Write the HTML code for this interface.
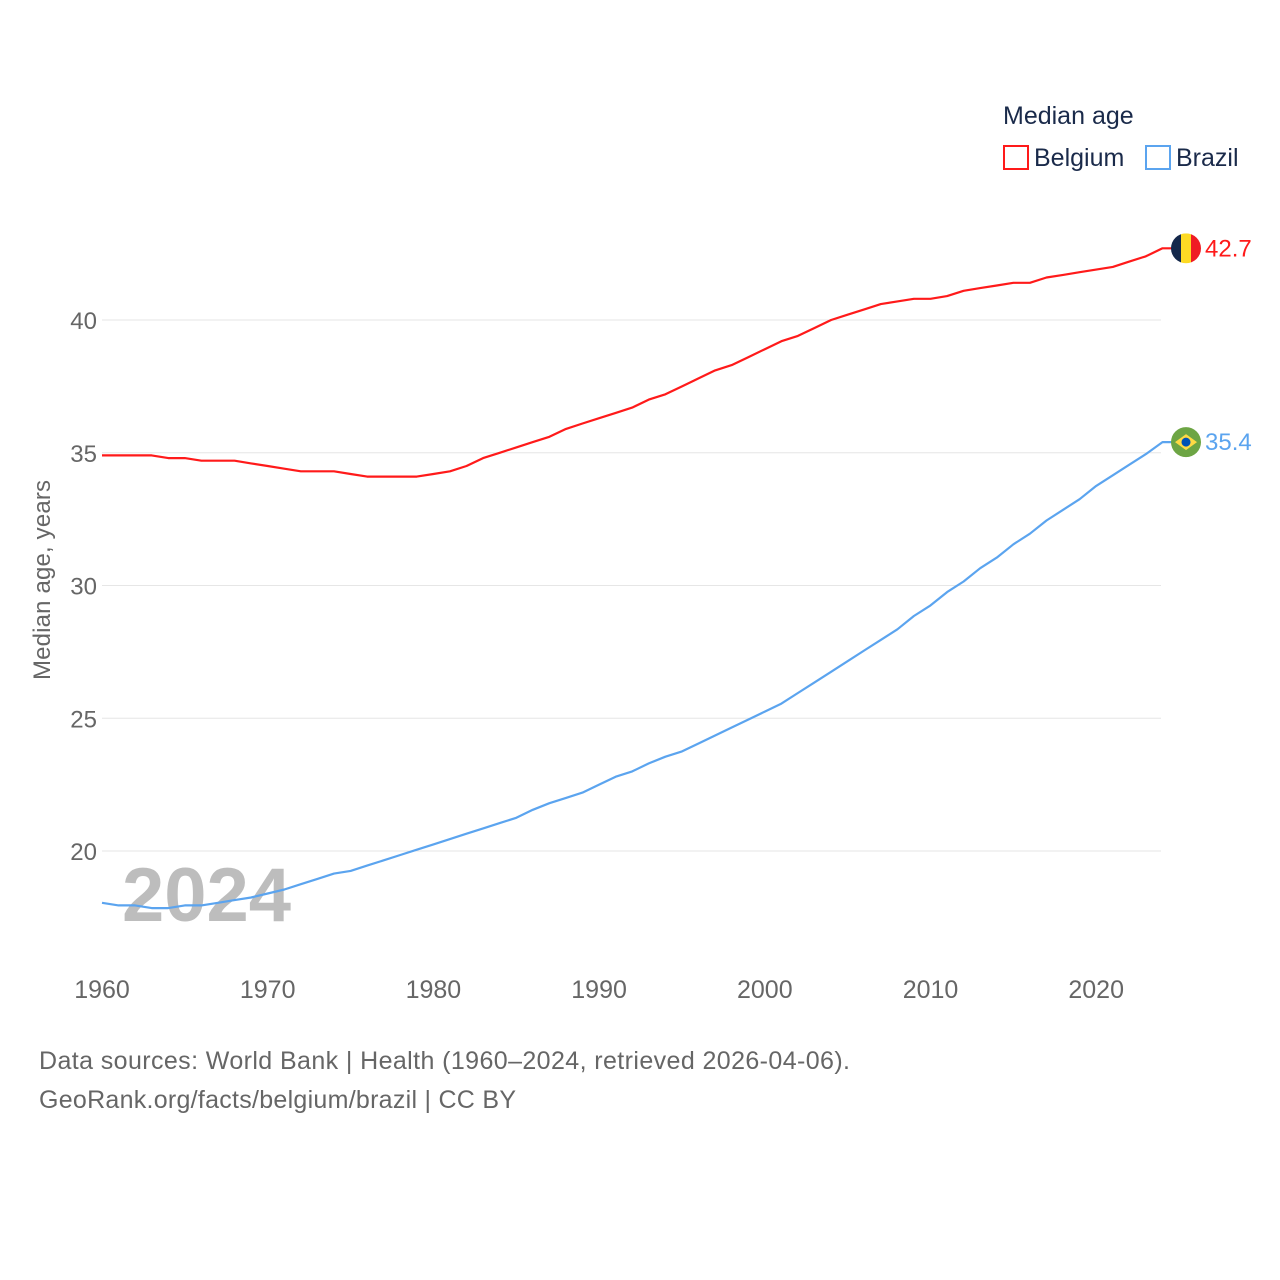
<!DOCTYPE html>
<html><head><meta charset="utf-8"><style>
body{margin:0;background:#fff}
svg{display:block;font-family:"Liberation Sans",sans-serif}
</style></head><body>
<svg id="chart" width="1280" height="1280" viewBox="0 0 1280 1280">
<text x="1003" y="124" font-size="25" fill="#1a2a4a">Median age</text>
<g><rect x="1004" y="146" width="24" height="23" fill="none" stroke="#ff1a1a" stroke-width="2"/><text x="1034" y="166" font-size="25" fill="#1a2a4a">Belgium</text></g>
<g><rect x="1146" y="146" width="24" height="23" fill="none" stroke="#5ba4ef" stroke-width="2"/><text x="1176" y="166" font-size="25" fill="#1a2a4a">Brazil</text></g>
<text transform="translate(50,580) rotate(-90)" text-anchor="middle" font-size="24" textLength="200" fill="#666">Median age, years</text>
<g id="grid"></g><g id="xt"></g>
<text x="122" y="921" font-size="76" font-weight="bold" fill="#bdbdbd">2024</text>
<g id="lines"></g>
<text x="39" y="1069" font-size="25" textLength="811" fill="#666">Data sources: World Bank | Health (1960–2024, retrieved 2026-04-06).</text>
<text x="39" y="1108" font-size="25" textLength="477" fill="#666">GeoRank.org/facts/belgium/brazil | CC BY</text>
</svg>
<script>
const years=[];for(let y=1960;y<=2024;y++)years.push(y);
const belgium=[34.9,34.9,34.9,34.9,34.8,34.8,34.7,34.7,34.7,34.6,34.5,34.4,34.3,34.3,34.3,34.2,34.1,34.1,34.1,34.1,34.2,34.3,34.5,34.8,35.0,35.2,35.4,35.6,35.9,36.1,36.3,36.5,36.7,37.0,37.2,37.5,37.8,38.1,38.3,38.6,38.9,39.2,39.4,39.7,40.0,40.2,40.4,40.6,40.7,40.8,40.8,40.9,41.1,41.2,41.3,41.4,41.4,41.6,41.7,41.8,41.9,42.0,42.2,42.4,42.7];
const brazil=[18.05,17.95,17.95,17.85,17.85,17.95,17.95,18.05,18.15,18.25,18.4,18.55,18.75,18.95,19.15,19.25,19.45,19.65,19.85,20.05,20.25,20.45,20.65,20.85,21.05,21.25,21.55,21.8,22.0,22.2,22.5,22.8,23.0,23.3,23.55,23.75,24.05,24.35,24.65,24.95,25.25,25.55,25.95,26.35,26.75,27.15,27.55,27.95,28.35,28.85,29.25,29.75,30.15,30.65,31.05,31.55,31.95,32.45,32.85,33.25,33.75,34.15,34.55,34.95,35.4];
const yTicks=[20,25,30,35,40];
const xTicks=[1960,1970,1980,1990,2000,2010,2020];
const X=y=>102+(y-1960)*16.57, Y=v=>320+(40-v)*26.55;
const NS="http://www.w3.org/2000/svg";
function mk(tag,attrs,parent,txt){const e=document.createElementNS(NS,tag);for(const k in attrs)e.setAttribute(k,attrs[k]);if(txt!=null)e.textContent=txt;parent.appendChild(e);return e;}
const grid=document.getElementById('grid'),xt=document.getElementById('xt'),lines=document.getElementById('lines');
yTicks.forEach(t=>{
 const l=mk('line',{x1:102,x2:1161,y1:Y(t),y2:Y(t),stroke:'#e6e6e6','stroke-width':1},grid);
 
 
 const tx=mk('text',{x:97,y:Y(t)+9,'text-anchor':'end','font-size':24,fill:'#666'},grid,t);
 
 
});
xTicks.forEach(t=>{
 const tx=mk('text',{x:X(t),y:998,'text-anchor':'middle','font-size':25,fill:'#666'},xt,t);
 
 
});
function series(vals,color,name){
 let d=vals.map((v,i)=>(i?'L':'M')+X(years[i]).toFixed(1)+','+Y(v).toFixed(1)).join(' ');
 const last=vals[vals.length-1];
 d+=' L'+(X(2024)+10)+','+Y(last).toFixed(1);
 const p=mk('path',{d:d,fill:'none',stroke:color,'stroke-width':2.2,'stroke-linejoin':'round'},lines);
 
 
 const t=mk('text',{x:1205,y:Y(last)+8,'font-size':24,fill:color},lines,last.toFixed(1));
 
 
 return Y(last);
}
const yb=series(belgium,'#ff1a1a','belgium');
const yz=series(brazil,'#5ba4ef','brazil');
const fb=mk('g',{},lines);


mk('clipPath',{id:'cb'},fb).appendChild(document.createElementNS(NS,'circle'));
const cb=fb.querySelector('#cb circle');cb.setAttribute('cx',1186);cb.setAttribute('cy',yb);cb.setAttribute('r',15);
const gb=mk('g',{'clip-path':'url(#cb)'},fb);
mk('rect',{x:1171,y:yb-15,width:10,height:30,fill:'#14284b'},gb);
mk('rect',{x:1181,y:yb-15,width:10,height:30,fill:'#fdda24'},gb);
mk('rect',{x:1191,y:yb-15,width:10,height:30,fill:'#ef1c24'},gb);
const fz=mk('g',{},lines);


mk('circle',{cx:1186,cy:yz,r:15,fill:'#6da544'},fz);
mk('polygon',{points:`1175,${yz} 1186,${yz-8} 1197,${yz} 1186,${yz+8}`,fill:'#ffda44'},fz);
mk('circle',{cx:1186,cy:yz,r:4.5,fill:'#0052b4'},fz);
</script>
</body></html>
